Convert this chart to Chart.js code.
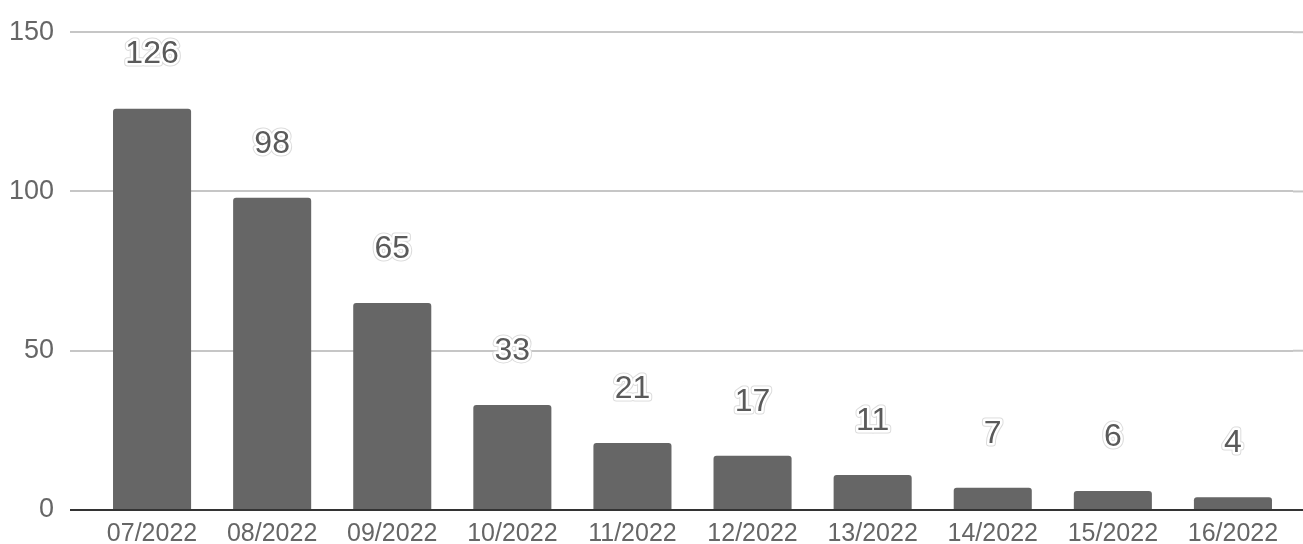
<!DOCTYPE html>
<html>
<head>
<meta charset="utf-8">
<script src="https://cdn.jsdelivr.net/npm/chart.js@4"></script>
<style>
html,body{margin:0;padding:0;background:#fff;}
#wrap{width:1303px;height:544px;position:relative;}
</style>
</head>
<body>
<div id="wrap"><canvas id="c" width="1303" height="544"></canvas></div>
<script>
const categories = ["07/2022","08/2022","09/2022","10/2022","11/2022","12/2022","13/2022","14/2022","15/2022","16/2022"];
const values = [126, 98, 65, 33, 21, 17, 11, 7, 6, 4];
const yTicks = [0, 50, 100, 150];

const FONT = "'Liberation Sans', Arial, sans-serif";

const gridExtend = {
  id: 'gridExtend',
  beforeDatasetsDraw(chart) {
    const {ctx, chartArea, scales} = chart;
    ctx.save();
    scales.y.ticks.forEach(t => {
      const y = scales.y.getPixelForValue(t.value);
      ctx.strokeStyle = t.value === 0 ? '#333333' : '#c6c6c6';
      ctx.lineWidth = 2;
      ctx.beginPath();
      ctx.moveTo(chartArea.right, y);
      ctx.lineTo(chart.width, y);
      ctx.stroke();
    });
    ctx.restore();
  }
};

const valueLabels = {
  id: 'valueLabels',
  afterDatasetsDraw(chart) {
    const {ctx} = chart;
    const meta = chart.getDatasetMeta(0);
    ctx.save();
    ctx.font = '32px ' + FONT;
    ctx.textAlign = 'center';
    ctx.textBaseline = 'middle';
    ctx.lineJoin = 'round';
    meta.data.forEach((bar, i) => {
      const txt = String(chart.data.datasets[0].data[i]);
      const x = bar.x, y = bar.y - 54;
      ctx.strokeStyle = '#dcdcdc';
      ctx.lineWidth = 7;
      ctx.strokeText(txt, x, y);
      ctx.strokeStyle = '#ffffff';
      ctx.lineWidth = 5;
      ctx.strokeText(txt, x, y);
      ctx.fillStyle = '#5a5a5a';
      ctx.fillText(txt, x, y);
    });
    ctx.restore();
  }
};

new Chart(document.getElementById('c'), {
  type: 'bar',
  data: {
    labels: categories,
    datasets: [{
      data: values,
      backgroundColor: '#666666',
      borderRadius: 3,
      borderSkipped: 'bottom',
      categoryPercentage: 1,
      barPercentage: 0.65
    }]
  },
  options: {
    responsive: false,
    animation: false,
    devicePixelRatio: 1,
    layout: { padding: { top: 28, left: 0, right: 10, bottom: 0 } },
    plugins: { legend: { display: false }, tooltip: { enabled: false } },
    scales: {
      x: {
        offset: true,
        grid: { display: false, drawTicks: false },
        border: { display: true, color: '#333333', width: 2 },
        ticks: { color: '#666666', font: { family: FONT, size: 25 }, padding: 9, maxRotation: 0, autoSkip: false },
        afterFit(scale) { scale.height = 34; }
      },
      y: {
        min: 0, max: 150,
        afterBuildTicks(scale) { scale.ticks = yTicks.map(v => ({value: v})); },
        grid: {
          color: ctx => (ctx.tick && ctx.tick.value === 0) ? '#333333' : '#c6c6c6',
          lineWidth: 2,
          tickLength: 22,
          drawTicks: true
        },
        border: { display: false },
        ticks: { color: '#666666', font: { family: FONT, size: 27 }, padding: 16 },
        afterFit(scale) { scale.width = 92; }
      }
    }
  },
  plugins: [gridExtend, valueLabels]
});
</script>
</body>
</html>
